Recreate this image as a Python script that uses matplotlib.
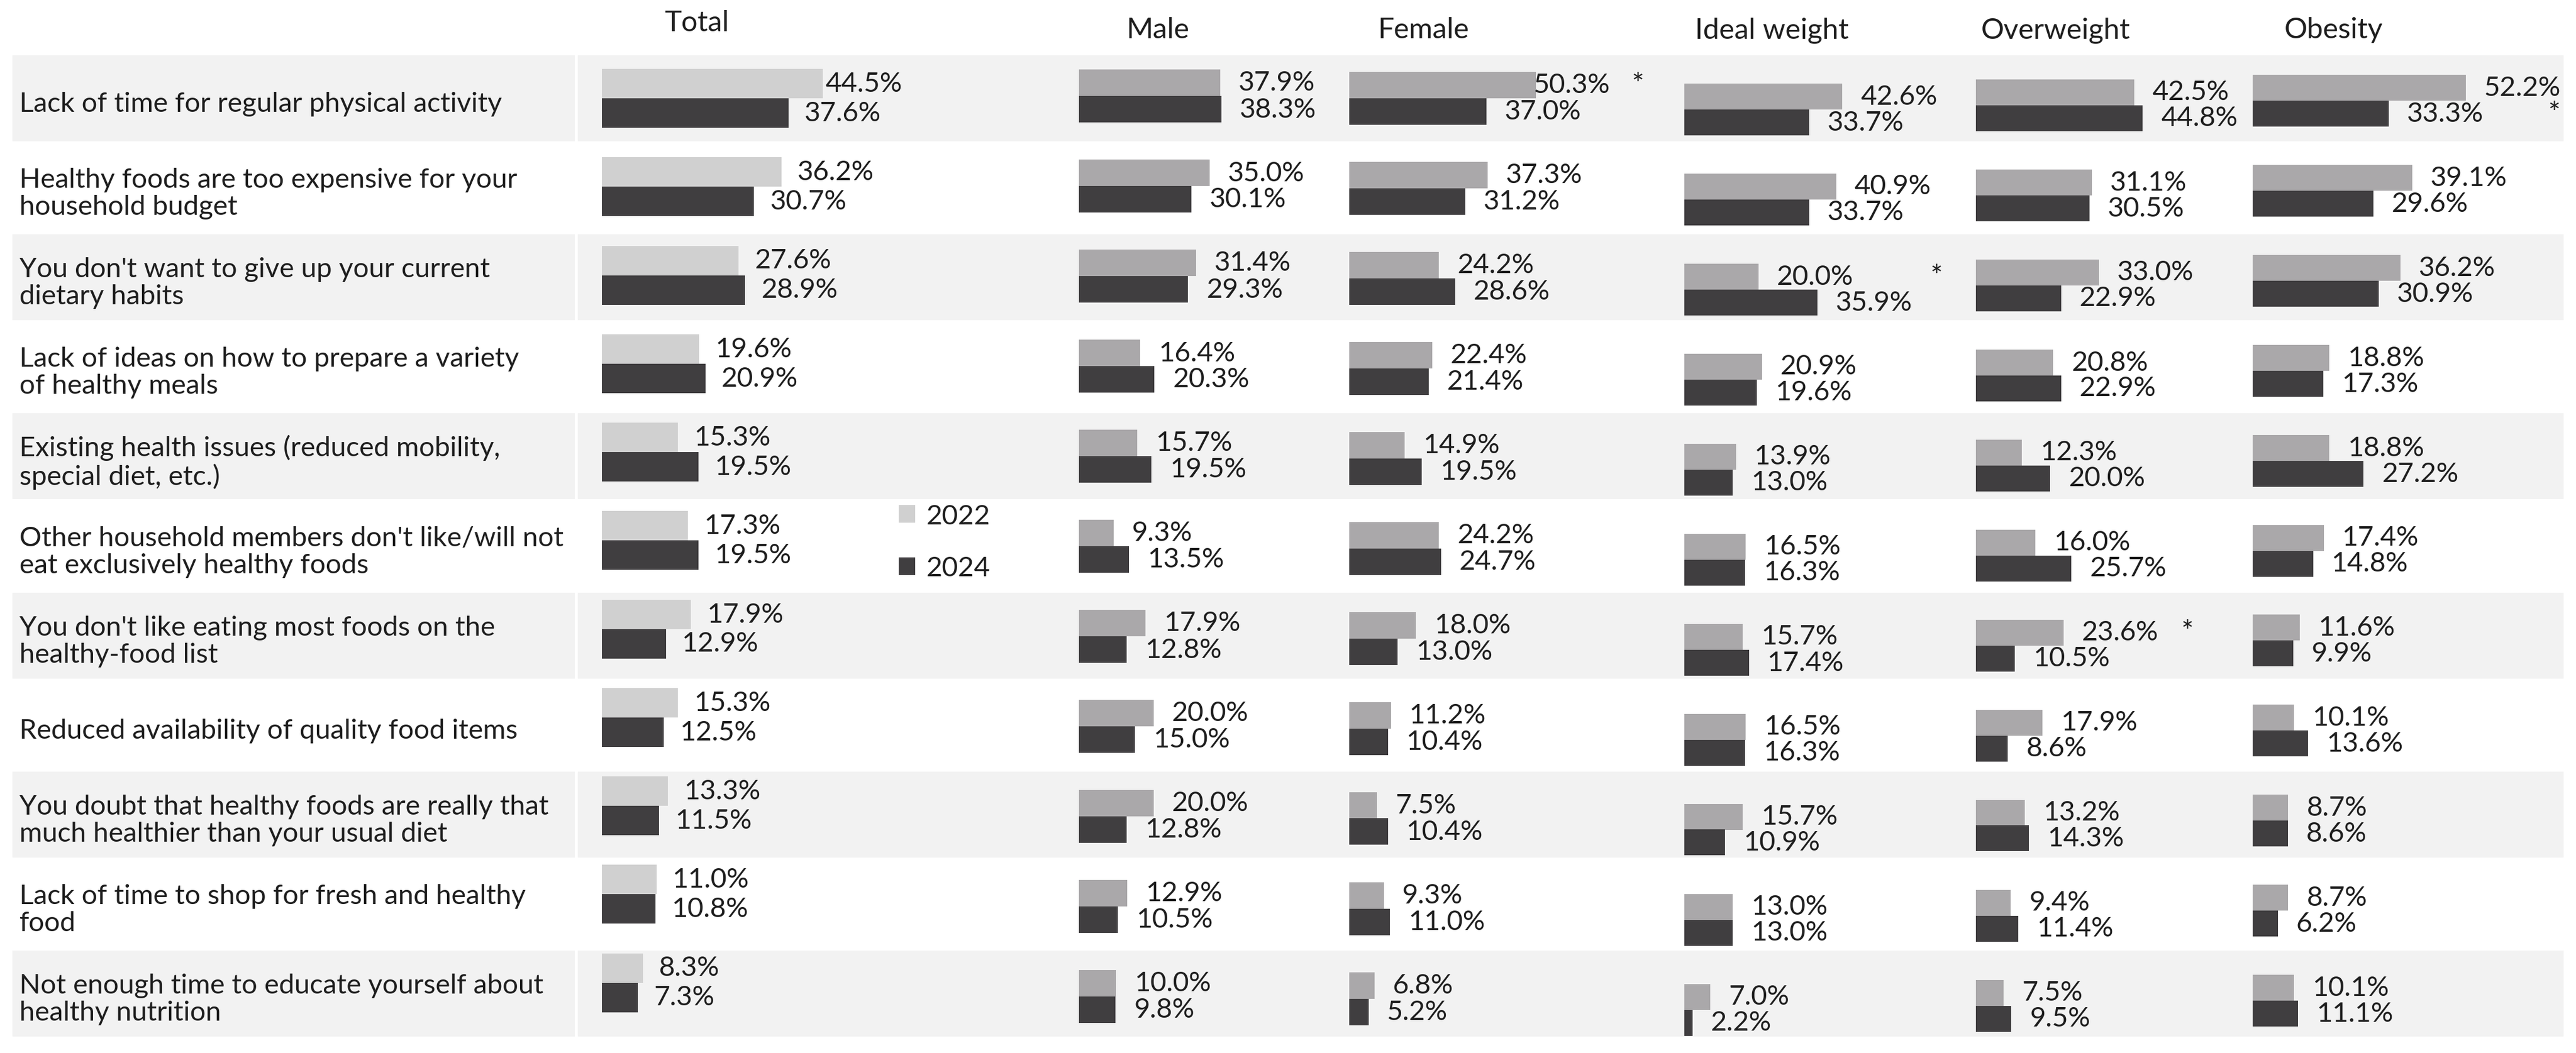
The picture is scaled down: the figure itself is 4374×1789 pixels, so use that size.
import numpy as np
import matplotlib
matplotlib.use("Agg")
import matplotlib.pyplot as plt
from matplotlib.patches import Rectangle, Patch
from matplotlib.textpath import TextPath
from matplotlib.font_manager import FontProperties

# ---------------- data ----------------
categories = [
    "Lack of time for regular physical activity",
    "Healthy foods are too expensive for your\nhousehold budget",
    "You don't want to give up your current\ndietary habits",
    "Lack of ideas on how to prepare a variety\nof healthy meals",
    "Existing health issues (reduced mobility,\nspecial diet, etc.)",
    "Other household members don't like/will not\neat exclusively healthy foods",
    "You don't like eating most foods on the\nhealthy-food list",
    "Reduced availability of quality food items",
    "You doubt that healthy foods are really that\nmuch healthier than your usual diet",
    "Lack of time to shop for fresh and healthy\nfood",
    "Not enough time to educate yourself about\nhealthy nutrition",
]
groups = ["Total", "Male", "Female", "Ideal weight", "Overweight", "Obesity"]
years = ["2022", "2024"]

total_2022 = [44.5, 36.2, 27.6, 19.6, 15.3, 17.3, 17.9, 15.3, 13.3, 11.0, 8.3]
total_2024 = [37.6, 30.7, 28.9, 20.9, 19.5, 19.5, 12.9, 12.5, 11.5, 10.8, 7.3]
male_2022 = [37.9, 35.0, 31.4, 16.4, 15.7, 9.3, 17.9, 20.0, 20.0, 12.9, 10.0]
male_2024 = [38.3, 30.1, 29.3, 20.3, 19.5, 13.5, 12.8, 15.0, 12.8, 10.5, 9.8]
female_2022 = [50.3, 37.3, 24.2, 22.4, 14.9, 24.2, 18.0, 11.2, 7.5, 9.3, 6.8]
female_2024 = [37.0, 31.2, 28.6, 21.4, 19.5, 24.7, 13.0, 10.4, 10.4, 11.0, 5.2]
ideal_2022 = [42.6, 40.9, 20.0, 20.9, 13.9, 16.5, 15.7, 16.5, 15.7, 13.0, 7.0]
ideal_2024 = [33.7, 33.7, 35.9, 19.6, 13.0, 16.3, 17.4, 16.3, 10.9, 13.0, 2.2]
over_2022 = [42.5, 31.1, 33.0, 20.8, 12.3, 16.0, 23.6, 17.9, 13.2, 9.4, 7.5]
over_2024 = [44.8, 30.5, 22.9, 22.9, 20.0, 25.7, 10.5, 8.6, 14.3, 11.4, 9.5]
obesity_2022 = [52.2, 39.1, 36.2, 18.8, 18.8, 17.4, 11.6, 10.1, 8.7, 8.7, 10.1]
obesity_2024 = [33.3, 29.6, 30.9, 17.3, 27.2, 14.8, 9.9, 13.6, 8.6, 6.2, 11.1]

# significant differences marked with "*": (group, row index, year of label beside it)
significant = [("Female", 0, "2022"), ("Obesity", 0, "2024"),
               ("Ideal weight", 2, "2022"), ("Overweight", 6, "2022")]

series = {
    "Total": (total_2022, total_2024),
    "Male": (male_2022, male_2024),
    "Female": (female_2022, female_2024),
    "Ideal weight": (ideal_2022, ideal_2024),
    "Overweight": (over_2022, over_2024),
    "Obesity": (obesity_2022, obesity_2024),
}

# ---------------- layout / style ----------------
W, H, DPI = 4374, 1790, 100
C22_LIGHT = "#d0d0d0"
C22 = "#aaa8aa"
C24 = "#403e40"
BAND = "#f2f2f2"
TXT = "#1e1e1e"

# per panel: left px, px per percent, first-row centre px, row pitch px, bar height px,
# header baseline/centre px, label gap px, right limit of plot area (px from panel left)
LAYOUT = {
    "Total":        dict(x0=1022, scale=8.42, c0=168.0, pitch=150.25, bh=50, hy=53, hx=1183, gap=27, lim=507),
    "Male":         dict(x0=1832, scale=6.33, c0=164.0, pitch=153.0, bh=45, hy=65, hx=1966, gap=31, lim=900),
    "Female":       dict(x0=2291, scale=6.30, c0=167.5, pitch=153.0, bh=45, hy=65, hx=2417, gap=31, lim=438),
    "Ideal weight": dict(x0=2860, scale=6.30, c0=186.5, pitch=153.0, bh=44, hy=65, hx=3009, gap=31, lim=900),
    "Overweight":   dict(x0=3355, scale=6.32, c0=179.5, pitch=153.0, bh=44, hy=65, hx=3490, gap=31, lim=900),
    "Obesity":      dict(x0=3825, scale=6.93, c0=172.0, pitch=152.9, bh=44, hy=65, hx=3962, gap=31, lim=900),
}
STAR_PX = {"Female": 480, "Obesity": 502, "Ideal weight": 418, "Overweight": 349}
PANEL_W = 520

FONT = "Lato"
fp = FontProperties(family=FONT)
ref_w = TextPath((0, 0), categories[0], size=100, prop=fp).get_extents().width
font_px = 100 * 815 / ref_w
FS = font_px * 72 / DPI

plt.rcParams["font.family"] = [FONT, "DejaVu Sans"]
plt.rcParams["text.color"] = TXT

fig = plt.figure(figsize=(W / DPI, H / DPI), dpi=DPI)
fig.patch.set_facecolor("white")

# background table
bg = fig.add_axes([0, 0, 1, 1])
bg.set_xlim(0, W)
bg.set_ylim(H, 0)
bg.axis("off")
BAND_TOP0, BAND_PITCH, BAND_H = 95, 152.1, 146
for i, lab in enumerate(categories):
    top = BAND_TOP0 + i * BAND_PITCH
    if i % 2 == 0:
        bg.add_patch(Rectangle((21, top), 955, BAND_H, facecolor=BAND, edgecolor="none"))
        bg.add_patch(Rectangle((981, top), 3372, BAND_H, facecolor=BAND, edgecolor="none"))
    bg.text(33, top + BAND_H / 2 + 9, lab, ha="left", va="center",
            fontsize=FS, linespacing=1.12, color=TXT)

for g in groups:
    L = LAYOUT[g]
    bg.text(L["hx"], L["hy"], g, ha="center", va="baseline", fontsize=FS * 1.04, color=TXT)


def label_width_px(s):
    return TextPath((0, 0), s, size=font_px, prop=fp).get_extents().width


# panels
y = np.arange(len(categories))
for g in groups:
    L = LAYOUT[g]
    v22, v24 = series[g]
    top_px = L["c0"] - L["pitch"] / 2
    hgt = len(categories) * L["pitch"]
    ax = fig.add_axes([L["x0"] / W, 1 - (top_px + hgt) / H, PANEL_W / W, hgt / H])
    ax.set_xlim(0, PANEL_W / L["scale"])
    ax.set_ylim(len(categories) - 0.5, -0.5)
    ax.axis("off")
    ax.patch.set_alpha(0)
    b = L["bh"] / L["pitch"]
    c22 = C22_LIGHT if g == "Total" else C22
    ax.barh(y - b / 2, v22, height=b, color=c22, linewidth=0)
    ax.barh(y + b / 2, v24, height=b, color=C24, linewidth=0)
    gap = L["gap"] / L["scale"]
    lim = L["lim"] / L["scale"]
    for vals, off in ((v22, -b / 2), (v24, b / 2)):
        for i in range(len(categories)):
            s = f"{vals[i]:.1f}%"
            x = vals[i] + gap
            wpx = label_width_px(s) / L["scale"]
            if x + wpx > lim:          # keep label inside the plot area, like the original
                x = max(vals[i] - wpx * 0.05, lim - wpx)
            ax.text(x, y[i] + off, s, va="center", ha="left",
                    fontsize=FS, color=TXT, clip_on=False)
    for (sg, row, yr) in significant:
        if sg == g:
            yy = y[row] - b / 2 if yr == "2022" else y[row] + b / 2
            ax.text(STAR_PX[g] / L["scale"], yy, "*", va="center", ha="left",
                    fontsize=FS * 1.05, color=TXT, clip_on=False)

# legend
fig.legend(handles=[Patch(facecolor=C22_LIGHT, edgecolor="none"),
                    Patch(facecolor=C24, edgecolor="none")],
           labels=years, loc="center left", bbox_to_anchor=(1526 / W, 1 - 922 / H),
           frameon=False, fontsize=FS, handlelength=0.6, handleheight=0.6,
           handletextpad=0.4, labelspacing=1.0, borderpad=0, borderaxespad=0)

fig.savefig("out.png", dpi=DPI, facecolor="white")
